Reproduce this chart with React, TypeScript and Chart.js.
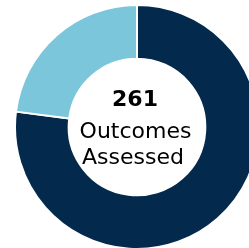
import React, { useEffect, useRef } from "react";
import { Chart, registerables } from "chart.js";

Chart.register(...registerables);

const categories = ["Outcomes A", "Outcomes B"];
const values = [201, 60];
const colors = ["#03294d", "#7cc6dc"];
const totalLabel = "261";
const centerLines = ["Outcomes", "Assessed"];

const centerTextPlugin = {
  id: "centerText",
  afterDraw(chart: any) {
    const meta = chart.getDatasetMeta(0);
    const arc = meta.data[0];
    if (!arc) return;
    const { x, y } = arc.getProps(["x", "y"], true);
    const ctx = chart.ctx;
    ctx.save();
    ctx.fillStyle = "#000000";
    ctx.textAlign = "center";
    ctx.textBaseline = "alphabetic";
    ctx.font = "bold 22px 'DejaVu Sans', sans-serif";
    ctx.fillText(totalLabel, x - 2, y - 21);
    ctx.font = "22px 'DejaVu Sans', sans-serif";
    ctx.fillText(centerLines[0], x - 1.5, y + 10.5);
    ctx.fillText(centerLines[1], x - 4, y + 36.5);
    ctx.restore();
  },
};

export default function App() {
  const ref = useRef<HTMLCanvasElement | null>(null);
  useEffect(() => {
    if (!ref.current) return;
    const chart = new Chart(ref.current, {
      type: "doughnut",
      data: {
        labels: categories,
        datasets: [
          {
            data: values,
            backgroundColor: colors,
            borderColor: "#ffffff",
            borderWidth: 2,
          },
        ],
      },
      options: {
        responsive: false,
        animation: false,
        cutout: "56%",
        layout: { padding: 0 },
        plugins: {
          legend: { display: false },
          tooltip: { enabled: false },
        },
      },
      plugins: [centerTextPlugin],
    });
    return () => chart.destroy();
  }, []);
  return (
    <div
      style={{
        position: "fixed",
        left: 0,
        top: 0,
        width: 249,
        height: 248,
        overflow: "hidden",
        background: "#ffffff",
      }}
    >
      <canvas
        ref={ref}
        width={246}
        height={246}
        style={{ position: "absolute", left: 14, top: 4, width: 246, height: 246 }}
      />
    </div>
  );
}
